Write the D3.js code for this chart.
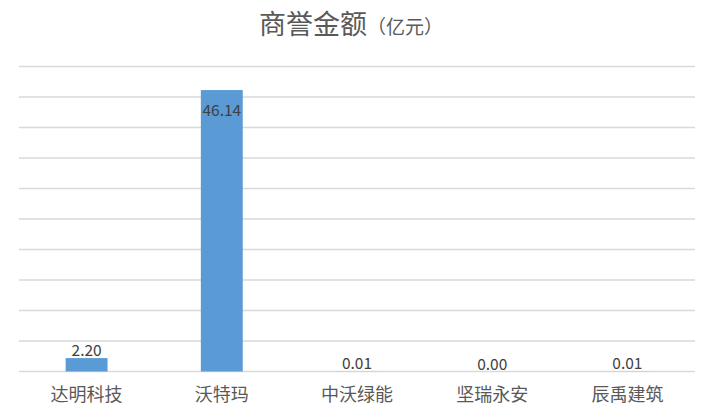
<!DOCTYPE html>
<html>
<head>
<meta charset="utf-8">
<script src="https://cdn.jsdelivr.net/npm/d3@7"></script>
<style>
  body { margin: 0; background: #fff; }
  text { font-family: "Noto Sans CJK SC", sans-serif; }
</style>
</head>
<body>
<script>
const width = 706;
const height = 418;

// data
const companies = ['达明科技', '沃特玛', '中沃绿能', '坚瑞永安', '辰禹建筑'];
const goodwill = [2.20, 46.14, 0.01, 0.00, 0.01];
const gridTicks = [0, 5, 10, 15, 20, 25, 30, 35, 40, 45, 50];

const margin = {top: 66.5, right: 11, bottom: 46.5, left: 19};

const svg = d3.select('body').append('svg')
  .attr('width', width)
  .attr('height', height);

const x = d3.scaleBand()
  .domain(companies)
  .range([margin.left, width - margin.right])
  .paddingInner(0.69)
  .paddingOuter(0.345);

const y = d3.scaleLinear()
  .domain([0, 50])
  .range([height - margin.bottom, margin.top]);

// gridlines
svg.append('g')
  .selectAll('line')
  .data(gridTicks)
  .enter().append('line')
  .attr('x1', margin.left)
  .attr('x2', width - margin.right)
  .attr('y1', d => y(d))
  .attr('y2', d => y(d))
  .attr('stroke', '#d9d9d9')
  .attr('stroke-width', 1.5);

// bars
svg.append('g')
  .selectAll('rect')
  .data(goodwill)
  .enter().append('rect')
  .attr('x', (d, i) => x(companies[i]))
  .attr('width', x.bandwidth())
  .attr('y', d => y(d))
  .attr('height', d => y(0) - y(d))
  .attr('fill', '#5b9bd5');

// value labels (the big one sits inside the bar)
svg.append('g')
  .selectAll('text')
  .data(goodwill)
  .enter().append('text')
  .attr('x', (d, i) => x(companies[i]) + x.bandwidth() / 2)
  .attr('y', d => d > 40 ? y(d) + 26 : y(d) - 2)
  .attr('text-anchor', 'middle')
  .attr('font-size', 15.5)
  .attr('fill', '#404040')
  .text(d => d.toFixed(2));

// category axis
const xAxis = svg.append('g')
  .attr('transform', `translate(0,${y(0)})`)
  .call(d3.axisBottom(x).tickSize(0).tickPadding(17));
xAxis.select('.domain').remove();
xAxis.selectAll('text')
  .attr('font-size', 18)
  .attr('fill', '#595959')
  .style('font-family', '"Noto Sans CJK SC", sans-serif');

// title
const title = svg.append('text')
  .attr('x', 351)
  .attr('y', 34)
  .attr('text-anchor', 'middle')
  .attr('fill', '#595959');
title.append('tspan').attr('font-size', 27).text('商誉金额');
title.append('tspan').attr('font-size', 19).text('（亿元）');
</script>
</body>
</html>
